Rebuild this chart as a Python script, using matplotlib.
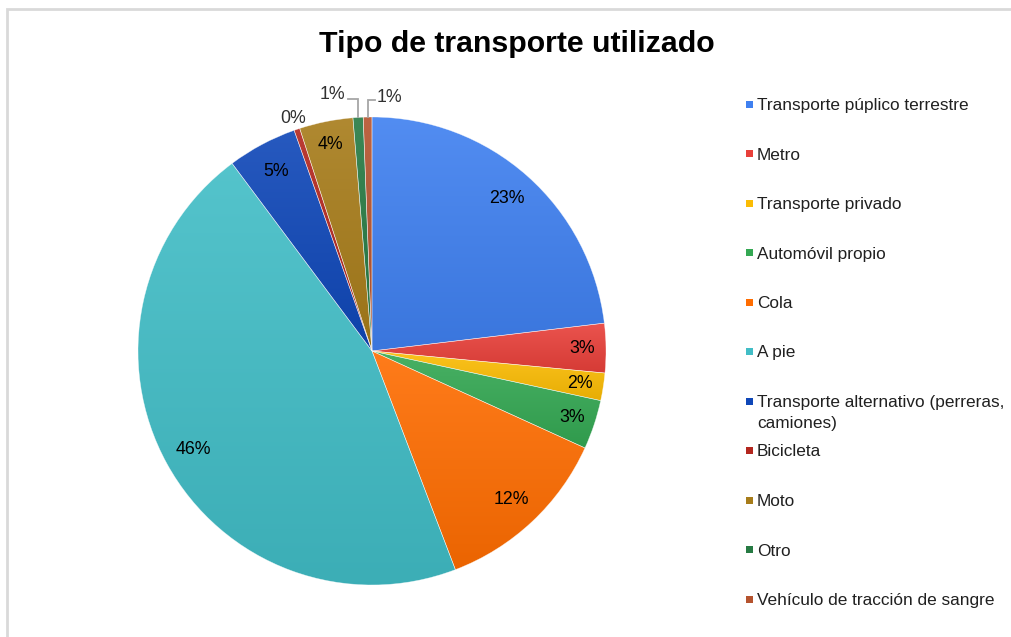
import numpy as np
import matplotlib
matplotlib.use("Agg")
import matplotlib.pyplot as plt
from matplotlib.patches import Rectangle
from matplotlib.colors import to_rgb

plt.rcParams['font.family'] = ['Liberation Sans', 'DejaVu Sans']

# ---- data ----
title = "Tipo de transporte utilizado"
categories = [
    "Transporte púplico terrestre",
    "Metro",
    "Transporte privado",
    "Automóvil propio",
    "Cola",
    "A pie",
    "Transporte alternativo (perreras,\ncamiones)",
    "Bicicleta",
    "Moto",
    "Otro",
    "Vehículo de tracción de sangre",
]
values = [23.1, 3.4, 1.9, 3.4, 12.4, 45.6, 4.8, 0.4, 3.7, 0.7, 0.6]
colors = ["#3f80f0", "#e8403a", "#fbbc04", "#34a853", "#ff6d01", "#41bdc6",
          "#0f47b8", "#b3261e", "#a77c1a", "#267a43", "#b5532e"]

W, H = 1012, 637
fig = plt.figure(figsize=(W / 100, H / 100), dpi=100)
fig.patch.set_facecolor("white")

# outer frame
fig.add_artist(Rectangle((7 / W, -0.02), 1.05, 1 - 9 / H + 0.02, transform=fig.transFigure,
                         fill=False, edgecolor="#d9d9d9", linewidth=2))

fig.text(517 / W, 1 - 52 / H, title, ha="center", va="baseline",
         fontsize=21.8, fontweight="bold", color="black")

# pie axes: center (372,351), radius 234 px
cx, cy, R = 372, 351, 234
ax = fig.add_axes([(cx - R) / W, (H - cy - R) / H, 2 * R / W, 2 * R / H])
ax.axis("off")

wedges, _ = ax.pie(values, colors=colors, startangle=90, counterclock=False,
                   radius=1, center=(0, 0),
                   wedgeprops=dict(edgecolor=(1, 1, 1, 0.6), linewidth=0.4))

# gradient fill per wedge
for w, c in zip(wedges, colors):
    base = np.array(to_rgb(c))
    top = base + (1 - base) * 0.1
    bot = base * 0.92
    ext = w.get_path().get_extents()
    t = np.linspace(0, 1, 256)[:, None]
    grad = (top[None, :] * (1 - t) + bot[None, :] * t)[:, None, :]
    im = ax.imshow(grad, extent=[ext.x0, ext.x1, ext.y0, ext.y1], origin="upper",
                   aspect="auto", zorder=1, interpolation="bilinear")
    im.set_clip_path(w)
    w.set_facecolor("none")
    w.set_zorder(2)

ax.set_xlim(-1, 1)
ax.set_ylim(-1, 1)
ax.set_aspect("auto")

# percentage labels
total = sum(values)
lbl_fs = 12.8
small_idx = []
for i, (w, v) in enumerate(zip(wedges, values)):
    pct = f"{round(v / total * 100):.0f}%"
    mid = np.deg2rad((w.theta1 + w.theta2) / 2)
    if v >= 1.5:
        r = 0.87 if v > 4.5 else 0.9
        ax.text(r * np.cos(mid), r * np.sin(mid), pct, ha="center", va="center",
                fontsize=lbl_fs, color="black", zorder=5)
    else:
        small_idx.append(i)

# outside labels for small slices
side = {7: "plain", 9: "left", 10: "right"}
for i in small_idx:
    w = wedges[i]
    mid = np.deg2rad((w.theta1 + w.theta2) / 2)
    pct = f"{round(values[i] / total * 100):.0f}%"
    ex, ey = np.cos(mid), np.sin(mid)
    s = side.get(i, "plain")
    if s == "plain":
        ax.text(1.05 * ex, 1.05 * ey, pct, ha="center", va="center",
                fontsize=lbl_fs, color="#303030", zorder=5, clip_on=False)
    elif s == "left":
        yy = 1.077
        ax.plot([ex, ex, ex - 0.043], [ey, yy, yy], color="#a6a6a6", lw=1.3,
                clip_on=False, zorder=4, solid_joinstyle="miter")
        ax.text(ex - 0.055, yy + 0.02, pct, ha="right", va="center",
                fontsize=lbl_fs, color="#303030", zorder=5, clip_on=False)
    else:
        yy = 1.073
        ax.plot([ex, ex, ex + 0.032], [ey, yy, yy], color="#a6a6a6", lw=1.3,
                clip_on=False, zorder=4, solid_joinstyle="miter")
        ax.text(ex + 0.04, yy + 0.01, pct, ha="left", va="center",
                fontsize=lbl_fs, color="#303030", zorder=5, clip_on=False)

# legend (manual)
y0, step = 103.5, 49.5
line_h = 21
for i, (lab, c) in enumerate(zip(categories, colors)):
    yc = y0 + i * step
    fig.add_artist(Rectangle((746 / W, 1 - (yc + 4) / H), 7 / W, 7 / H,
                             transform=fig.transFigure, facecolor=c, edgecolor="none"))
    for k, line in enumerate(lab.split("\n")):
        fig.text(757 / W, 1 - (yc + 6.5 + k * line_h) / H, line, ha="left", va="baseline",
                 fontsize=12.4, color="#202020")

fig.savefig("out.png", dpi=100, facecolor="white")
